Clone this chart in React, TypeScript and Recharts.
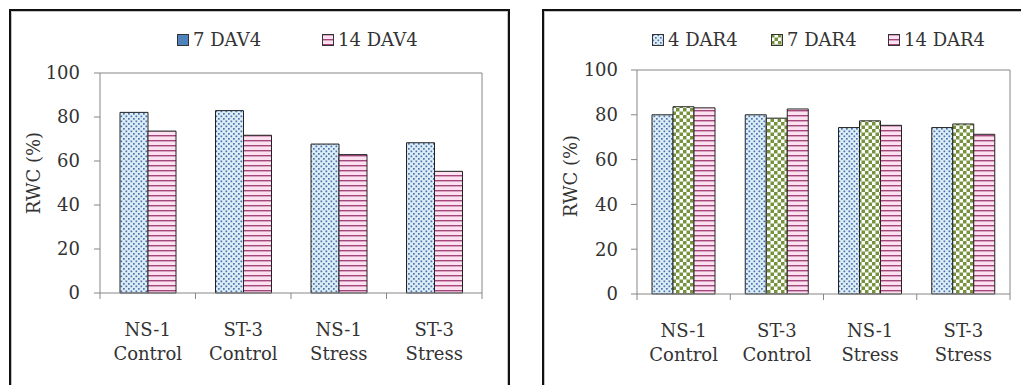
import { BarChart, Bar, XAxis, YAxis, ReferenceLine } from 'recharts';

const categories = ['NS-1 Control', 'ST-3 Control', 'NS-1 Stress', 'ST-3 Stress'];

// left panel: days after V4
const dav7 = [82.1, 82.9, 67.7, 68.3];
const dav14 = [73.6, 71.7, 62.9, 55.3];

// right panel: days after R4
const dar4 = [80.0, 80.0, 74.3, 74.3];
const dar7 = [83.6, 78.5, 77.3, 75.9];
const dar14 = [83.1, 82.6, 75.3, 71.3];

const yTicks = [0, 20, 40, 60, 80, 100];

const AXIS = '#868686';
const TEXT = '#333';
const FONT = '"DejaVu Serif", serif';

const leftData = categories.map((c, i) => ({ name: c, d7: dav7[i], d14: dav14[i] }));
const rightData = categories.map((c, i) => ({ name: c, d4: dar4[i], d7: dar7[i], d14: dar14[i] }));

function Patterns({ prefix }: { prefix: string }) {
  return (
    <defs>
      <pattern id={`${prefix}-dots`} width={5} height={5} patternUnits="userSpaceOnUse">
        <rect width={5} height={5} fill="#dcedf5" />
        <rect x={0.5} y={0.5} width={1.7} height={1.7} fill="#4a72b0" />
        <rect x={3} y={3} width={1.7} height={1.7} fill="#4a72b0" />
      </pattern>
      <pattern id={`${prefix}-check`} width={7} height={7} patternUnits="userSpaceOnUse">
        <rect width={7} height={7} fill="#ffffff" />
        <rect x={0} y={0} width={3.5} height={3.5} fill="#76923c" />
        <rect x={3.5} y={3.5} width={3.5} height={3.5} fill="#76923c" />
      </pattern>
      <pattern id={`${prefix}-stripes`} width={5} height={5} patternUnits="userSpaceOnUse">
        <rect width={5} height={5} fill="#fce2f0" />
        <rect x={0} y={0} width={5} height={1.4} fill="#a4457c" />
      </pattern>
    </defs>
  );
}

const makeTick = (n: number, fallbackHalf: number) => (props: any) => {
  const { x, y, payload, index } = props;
  const half = payload && typeof payload.offset === 'number' && payload.offset > 0 ? payload.offset : fallbackHalf;
  const [l1, l2] = String(payload.value).split(' ');
  return (
    <g>
      <line x1={x - half} x2={x - half} y1={y} y2={y + 6} stroke={AXIS} />
      {index === n - 1 && <line x1={x + half} x2={x + half} y1={y} y2={y + 6} stroke={AXIS} />}
      <text x={x} y={y + 36} textAnchor="middle" dominantBaseline="central" fill={TEXT} fontSize={18} fontFamily={FONT}>
        {l1}
      </text>
      <text x={x} y={y + 60} textAnchor="middle" dominantBaseline="central" fill={TEXT} fontSize={18} fontFamily={FONT}>
        {l2}
      </text>
    </g>
  );
};

const yLabel = (cx: number, cy: number) => ({
  content: () => (
    <text
      x={cx}
      y={cy}
      transform={`rotate(-90 ${cx} ${cy})`}
      textAnchor="middle"
      dominantBaseline="central"
      fill={TEXT}
      fontSize={18}
      fontFamily={FONT}
    >
      RWC (%)
    </text>
  ),
});

function LegendItem({ fill, label, width }: { fill: string; label: string; width: number }) {
  return (
    <span style={{ display: 'inline-flex', alignItems: 'center', width }}>
      <svg width={13} height={13} style={{ marginRight: 3 }}>
        <rect x={0.5} y={0.5} width={11} height={11} fill={fill} stroke="#333" />
      </svg>
      <span>{label}</span>
    </span>
  );
}

const boxStyle = (left: number, width: number): React.CSSProperties => ({
  position: 'absolute',
  left,
  top: 9,
  width,
  height: 400,
  border: '2px solid #111',
  boxShadow: 'inset 0 0 0 1px #c4c4c4',
  boxSizing: 'border-box',
});

const legendStyle = (left: number): React.CSSProperties => ({
  position: 'absolute',
  left,
  top: 30,
  display: 'flex',
  fontFamily: FONT,
  fontSize: 18,
  color: TEXT,
  lineHeight: '20px',
});

export default function App() {
  const tickStyle = { fill: TEXT, fontSize: 18, fontFamily: FONT };
  return (
    <div style={{ position: 'absolute', left: 0, top: 0, width: 1021, height: 385, background: '#fff', overflow: 'hidden' }}>
      <div style={boxStyle(9, 501)} />
      <div style={boxStyle(542, 500)} />

      <div style={{ position: 'absolute', left: 10, top: 10 }}>
        <BarChart
          width={499}
          height={375}
          data={leftData}
          margin={{ top: 63, right: 26, bottom: 0, left: 0 }}
          barSize={28}
          barGap={0}
        >
          <Patterns prefix="l" />
          <XAxis
            dataKey="name"
            stroke={AXIS}
            tickLine={false}
            tickSize={0}
            tickMargin={0}
            interval={0}
            height={92}
            tick={makeTick(categories.length, 382 / categories.length / 2)}
          />
          <YAxis
            domain={[0, 100]}
            ticks={yTicks}
            interval={0}
            width={90}
            stroke={AXIS}
            tickSize={6}
            tickMargin={14}
            tick={tickStyle}
            label={yLabel(23, 163)}
          />
          <YAxis yAxisId="right" orientation="right" domain={[0, 100]} width={1} tick={false} tickLine={false} stroke={AXIS} />
          <ReferenceLine y={100} stroke={AXIS} />
          <Bar dataKey="d7" name="7 DAV4" fill="url(#l-dots)" stroke="#222" strokeWidth={1} isAnimationActive={false} />
          <Bar dataKey="d14" name="14 DAV4" fill="url(#l-stripes)" stroke="#222" strokeWidth={1} isAnimationActive={false} />
        </BarChart>
      </div>
      <div style={legendStyle(177)}>
        <LegendItem fill="#4f81bd" label="7 DAV4" width={145} />
        <LegendItem fill="url(#l-stripes)" label="14 DAV4" width={110} />
      </div>

      <div style={{ position: 'absolute', left: 543, top: 10 }}>
        <BarChart
          width={480}
          height={375}
          data={rightData}
          margin={{ top: 60, right: 12, bottom: 0, left: 0 }}
          barSize={21}
          barGap={0}
        >
          <Patterns prefix="r" />
          <XAxis
            dataKey="name"
            stroke={AXIS}
            tickLine={false}
            tickSize={0}
            tickMargin={0}
            interval={0}
            height={91}
            tick={makeTick(categories.length, 373 / categories.length / 2)}
          />
          <YAxis
            domain={[0, 100]}
            ticks={yTicks}
            interval={0}
            width={94}
            stroke={AXIS}
            tickSize={6}
            tickMargin={13}
            tick={tickStyle}
            label={yLabel(27, 166)}
          />
          <YAxis yAxisId="right" orientation="right" domain={[0, 100]} width={1} tick={false} tickLine={false} stroke={AXIS} />
          <ReferenceLine y={100} stroke={AXIS} />
          <Bar dataKey="d4" name="4 DAR4" fill="url(#r-dots)" stroke="#222" strokeWidth={1} isAnimationActive={false} />
          <Bar dataKey="d7" name="7 DAR4" fill="url(#r-check)" stroke="#222" strokeWidth={1} isAnimationActive={false} />
          <Bar dataKey="d14" name="14 DAR4" fill="url(#r-stripes)" stroke="#222" strokeWidth={1} isAnimationActive={false} />
        </BarChart>
      </div>
      <div style={legendStyle(652)}>
        <LegendItem fill="url(#r-dots)" label="4 DAR4" width={119} />
        <LegendItem fill="url(#r-check)" label="7 DAR4" width={117} />
        <LegendItem fill="url(#r-stripes)" label="14 DAR4" width={110} />
      </div>
    </div>
  );
}
